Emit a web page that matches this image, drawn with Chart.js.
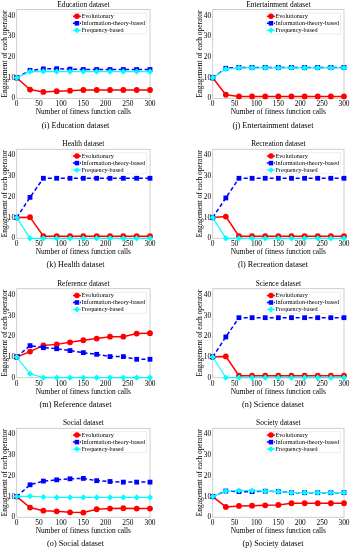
<!DOCTYPE html>
<html>
<head>
<meta charset="utf-8">
<script src="https://cdn.jsdelivr.net/npm/chart.js@4.4.1/dist/chart.umd.min.js"></script>
<style>
  body { margin: 0; background: #fff; width: 352px; height: 550px; position: relative; overflow: hidden; }
  canvas { position: absolute; }
</style>
</head>
<body>
<canvas id="c1"></canvas><canvas id="c2"></canvas>
<canvas id="c3"></canvas><canvas id="c4"></canvas>
<canvas id="c5"></canvas><canvas id="c6"></canvas>
<canvas id="c7"></canvas><canvas id="c8"></canvas>
<script>
// x values and tick labels
const calls = [0, 30, 60, 90, 120, 150, 180, 210, 240, 270, 300];
const xTicks = [0, 50, 100, 150, 200, 250, 300];
const yTicks = [0, 10, 20, 30, 40];
const seriesNames = ["Evolutionary", "Information-theory-based", "Frequency-based"];

// series
const eduEvo = [10, 4.3, 3.2, 3.5, 3.8, 4.1, 4.1, 4.1, 4.1, 4.1, 4.1];
const eduInfo = [10, 13.6, 14.3, 14.4, 14.2, 14, 14, 14, 14, 14, 14];
const eduFreq = [10, 13, 13.1, 13, 13, 13, 13, 13, 13, 13, 13];

const entEvo = [10, 1.8, 1, 1, 1, 1, 1, 1, 1, 1, 1];
const entInfo = [10, 14.6, 15, 15, 15, 15, 15, 15, 15, 15, 15];
const entFreq = [10, 14.2, 14.8, 14.8, 14.8, 14.8, 14.8, 14.8, 14.8, 14.8, 14.8];

const heaEvo = [10, 10.2, 1, 1, 1, 1, 1, 1, 1, 1, 1];
const heaInfo = [10, 19.8, 29, 29, 29, 29, 29, 29, 29, 29, 29];
const heaFreq = [10, 0, 0, 0, 0, 0, 0, 0, 0, 0, 0];

const recEvo = [10, 10.5, 1, 1, 1, 1, 1, 1, 1, 1, 1];
const recInfo = [10, 19.5, 29, 29, 29, 29, 29, 29, 29, 29, 29];
const recFreq = [10, 0, 0, 0, 0, 0, 0, 0, 0, 0, 0];

const refEvo = [10, 12.6, 15.6, 16.1, 17.1, 18.1, 18.9, 19.8, 19.8, 21.3, 21.5];
const refInfo = [10, 15.5, 14.5, 14, 13.1, 12.1, 11.3, 10.2, 10.2, 8.9, 8.9];
const refFreq = [10, 1.9, 0, 0, 0, 0, 0, 0, 0, 0, 0];

const sciEvo = [10, 10.3, 1, 1, 1, 1, 1, 1, 1, 1, 1];
const sciInfo = [10, 19.7, 29, 29, 29, 29, 29, 29, 29, 29, 29];
const sciFreq = [10, 0, 0, 0, 0, 0, 0, 0, 0, 0, 0];

const socEvo = [10, 4.7, 3.2, 2.9, 2.4, 2.3, 3.9, 4.2, 4.4, 4.2, 4.2];
const socInfo = [10, 15.7, 17.5, 18.1, 18.6, 18.8, 17.7, 17.3, 17, 17, 17];
const socFreq = [10, 10.2, 9.8, 9.6, 9.6, 9.6, 9.6, 9.6, 9.6, 9.6, 9.6];

const socyEvo = [10, 5, 5.5, 5.6, 5.8, 6, 6.8, 6.8, 6.8, 6.8, 6.8];
const socyInfo = [10, 12.7, 12.4, 12.4, 12.6, 12.4, 11.9, 11.9, 11.9, 11.9, 11.9];
const socyFreq = [10, 12.7, 12.9, 12.9, 12.6, 12.4, 11.9, 11.9, 11.9, 11.9, 11.9];

const panels = [
  { id: "c1", col: 0, row: 0, title: "Education dataset", caption: "(i) Education dataset", series: [eduEvo, eduInfo, eduFreq] },
  { id: "c2", col: 1, row: 0, title: "Entertainment dataset", caption: "(j) Entertainment dataset", series: [entEvo, entInfo, entFreq] },
  { id: "c3", col: 0, row: 1, title: "Health dataset", caption: "(k) Health dataset", series: [heaEvo, heaInfo, heaFreq] },
  { id: "c4", col: 1, row: 1, title: "Recreation dataset", caption: "(l) Recreation dataset", series: [recEvo, recInfo, recFreq] },
  { id: "c5", col: 0, row: 2, title: "Reference dataset", caption: "(m) Reference dataset", series: [refEvo, refInfo, refFreq] },
  { id: "c6", col: 1, row: 2, title: "Science dataset", caption: "(n) Science dataset", series: [sciEvo, sciInfo, sciFreq] },
  { id: "c7", col: 0, row: 3, title: "Social dataset", caption: "(o) Social dataset", series: [socEvo, socInfo, socFreq] },
  { id: "c8", col: 1, row: 3, title: "Society dataset", caption: "(p) Society dataset", series: [socyEvo, socyInfo, socyFreq] },
];

// layout of the grid
const rowTops = [0, 140, 279, 419];
const plotTops = [9.5, 149.3, 288.7, 428.3];
const plotH = 89;
const canvasH = 137;
const serif = "'Liberation Serif', 'Times New Roman', serif";

const styles = [
  { color: "#ff0000", point: "circle", radius: 2.9, width: 1.5, dash: [] },
  { color: "#0000ff", point: "rect", radius: 3.4, width: 1.5, dash: [4, 2.5] },
  { color: "#00ffff", point: "rectRot", radius: 3.1, width: 1.2, dash: [] },
];

function marker(ctx, s, x, y, k) {
  ctx.fillStyle = s.color;
  ctx.beginPath();
  const r = s.radius * k;
  if (s.point === "circle") {
    ctx.arc(x, y, r, 0, Math.PI * 2);
  } else if (s.point === "rect") {
    const h = r * Math.SQRT1_2;
    ctx.rect(x - h, y - h, 2 * h, 2 * h);
  } else {
    ctx.moveTo(x - r, y); ctx.lineTo(x, y - r); ctx.lineTo(x + r, y); ctx.lineTo(x, y + r);
    ctx.closePath();
  }
  ctx.fill();
}

// box, legend, title and caption drawn on each panel
const panelPlugin = {
  id: "panel",
  beforeDatasetsDraw(chart) {
    const { ctx, chartArea: a } = chart;
    ctx.save();
    ctx.strokeStyle = "#c4c4c4";
    ctx.lineWidth = 0.8;
    ctx.strokeRect(a.left, a.top, a.right - a.left, a.bottom - a.top);
    ctx.restore();
  },
  afterDatasetsDraw(chart) {
    const { ctx, chartArea: a } = chart;
    ctx.save();
    ctx.font = "6.2px " + serif;
    let tw = 0;
    seriesNames.forEach(n => { tw = Math.max(tw, ctx.measureText(n).width); });
    const w = tw + 11, h = 21;
    const left = a.right - 3.5 - w, top = a.top + 3.5;
    ctx.fillStyle = "#fff";
    ctx.fillRect(left, top, w, h);
    ctx.strokeStyle = "#e2e2e2";
    ctx.lineWidth = 0.6;
    ctx.strokeRect(left, top, w, h);
    seriesNames.forEach((n, i) => {
      const s = styles[i];
      const y = top + 3.3 + i * 7;
      const mx = left + 5;
      ctx.strokeStyle = s.color;
      ctx.lineWidth = s.width;
      ctx.setLineDash(s.dash.length ? [2, 1.5] : []);
      ctx.beginPath(); ctx.moveTo(mx - 4, y); ctx.lineTo(mx + 4, y); ctx.stroke();
      ctx.setLineDash([]);
      marker(ctx, s, mx, y, 0.95);
      ctx.fillStyle = "#000";
      ctx.textBaseline = "middle";
      ctx.textAlign = "left";
      ctx.fillText(n, left + 9.5, y + 0.3);
    });
    ctx.restore();
  },
  afterDraw(chart, args, opts) {
    const { ctx, chartArea: a } = chart;
    ctx.save();
    ctx.fillStyle = "#000";
    ctx.textAlign = "center";
    ctx.textBaseline = "middle";
    ctx.font = "7.4px " + serif;
    ctx.fillText(opts.title, (a.left + a.right) / 2, a.top - 4.8);
    ctx.font = "8.2px " + serif;
    ctx.fillText(opts.caption, opts.captionX, a.bottom + 27);
    ctx.restore();
  }
};

panels.forEach(p => {
  const cv = document.getElementById(p.id);
  const cLeft = p.col === 0 ? 0 : 190;
  const cW = p.col === 0 ? 176 : 162;
  cv.style.left = cLeft + "px";
  cv.style.top = rowTops[p.row] + "px";
  cv.width = cW;
  cv.height = canvasH;
  const padTop = plotTops[p.row] - rowTops[p.row];
  const xAxisH = canvasH - padTop - plotH;
  const yAxisW = p.col === 0 ? 16.7 : 17.7;

  const datasets = p.series.map((vals, i) => ({
    label: seriesNames[i],
    data: vals.map((v, k) => ({ x: calls[k], y: v })),
    borderColor: styles[i].color,
    backgroundColor: styles[i].color,
    borderWidth: styles[i].width,
    borderDash: styles[i].dash,
    pointStyle: styles[i].point,
    pointRadius: styles[i].radius,
    pointBorderWidth: 0,
    pointBackgroundColor: styles[i].color,
    tension: 0,
    clip: false,
    order: 3 - i,
  }));

  new Chart(cv, {
    type: "line",
    data: { datasets: datasets },
    plugins: [panelPlugin],
    options: {
      responsive: false,
      animation: false,
      devicePixelRatio: 1,
      layout: { padding: { left: p.col === 0 ? 0 : 5, right: p.col === 0 ? 26 : 8, top: padTop, bottom: 0 } },
      plugins: {
        legend: { display: false },
        tooltip: { enabled: false },
        panel: { title: p.title, caption: p.caption, captionX: p.col === 0 ? 75.5 : 83 },
      },
      scales: {
        x: {
          type: "linear",
          min: 0,
          max: 300,
          grid: { display: false, drawTicks: false },
          border: { display: false },
          afterBuildTicks: s => { s.ticks = xTicks.map(v => ({ value: v })); },
          afterFit: s => { s.height = xAxisH; },
          ticks: { color: "#000", font: { family: serif, size: 7.4 }, padding: 1.5, maxRotation: 0, autoSkip: false },
          title: {
            display: true,
            text: "Number of fitness function calls",
            color: "#000",
            font: { family: serif, size: 7.4 },
            padding: { top: 0, bottom: xAxisH - 14 - 4.4 },
          },
        },
        y: {
          min: 0,
          max: 43,
          grid: { display: false, drawTicks: false },
          border: { display: false },
          afterBuildTicks: s => { s.ticks = yTicks.map(v => ({ value: v })); },
          afterFit: s => { s.width = yAxisW; },
          ticks: { color: "#000", font: { family: serif, size: 7.4 }, padding: 1.5 },
          title: {
            display: true,
            text: "Engagement of each operator",
            color: "#000",
            font: { family: serif, size: 7.4 },
            padding: { top: 0.4, bottom: 0 },
          },
        },
      },
    },
  });
});
</script>
</body>
</html>
